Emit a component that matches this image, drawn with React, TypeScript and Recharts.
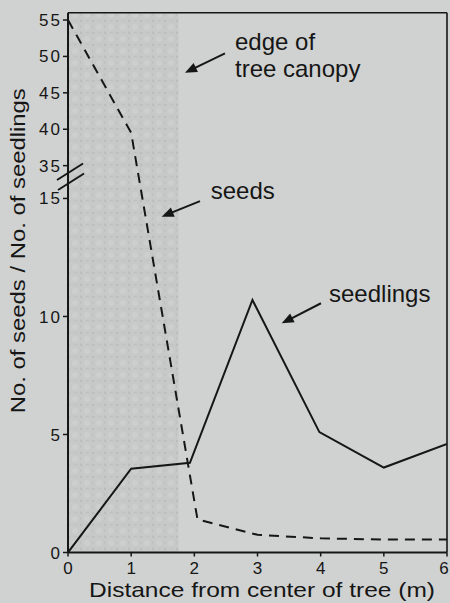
import React from 'react';
import { LineChart, Line, XAxis, YAxis, ReferenceArea, ReferenceLine, ReferenceDot } from 'recharts';

// ---- data ----
const xTicks = [0, 1, 2, 3, 4, 5, 6];
const yTickLabels = [0, 5, 10, 15, 35, 40, 45, 50, 55];

const seedsX = [0, 1, 2.05, 3, 4, 5, 6];
const seedsValues = [55, 39.5, 1.4, 0.75, 0.6, 0.55, 0.55];

const seedlingsX = [0, 1, 1.93, 2.92, 3.98, 5, 6];
const seedlingsValues = [0, 3.55, 3.8, 10.7, 5.1, 3.6, 4.6];

const canopyEdgeX = 1.75;

// annotation texts and positions (x in metres, y in axis units)
const annotationTexts = [['edge of', 'tree canopy'], ['seeds'], ['seedlings']];
const annotationTextPos = [
  { x: 2.644, y: 21.29 },
  { x: 2.259, y: 14.98 },
  { x: 4.132, y: 10.63 },
];
const arrowTails = [
  { x: 2.485, y: 21.15 },
  { x: 2.09, y: 14.89 },
  { x: 4.005, y: 10.56 },
];
const arrowHeads = [
  { x: 1.852, y: 20.33 },
  { x: 1.483, y: 14.23 },
  { x: 3.383, y: 9.71 },
];
const breakMark = { x: 0.032, y: 15.91 };

// ---- broken axis mapping ----
const UPPER_BOTTOM = 35;
const UPPER_START = 16.39;
const UPPER_SCALE = 0.3085;
const AXIS_TOP = 22.87;
const toAxis = (v: number) => (v < 25 ? v : UPPER_START + (v - UPPER_BOTTOM) * UPPER_SCALE);
const yTicks = yTickLabels.map(toAxis);

const seedsData = seedsX.map((x, i) => ({ x, y: toAxis(seedsValues[i]) }));
const seedlingsData = seedlingsX.map((x, i) => ({ x, y: toAxis(seedlingsValues[i]) }));

const FONT = '"Liberation Sans", Arial, Helvetica, sans-serif';
const INK = '#161616';
const BG = '#d0d2d1';

const ArrowShape = (props: any) => {
  const { x1, y1, x2, y2 } = props;
  const dx = x2 - x1;
  const dy = y2 - y1;
  const len = Math.hypot(dx, dy) || 1;
  const ux = dx / len;
  const uy = dy / len;
  const headLen = 12;
  const headW = 5;
  const bx = x2 - ux * headLen;
  const by = y2 - uy * headLen;
  const px = -uy;
  const py = ux;
  return (
    <g>
      <line x1={x1} y1={y1} x2={bx + ux * 2} y2={by + uy * 2} stroke={INK} strokeWidth={2} />
      <polygon
        points={`${x2},${y2} ${bx + px * headW},${by + py * headW} ${bx - px * headW},${by - py * headW}`}
        fill={INK}
      />
    </g>
  );
};

const makeTextShape = (lines: string[]) => (p: any) => (
  <text x={p.cx} y={p.cy} fontSize={24} fontFamily={FONT} fill={INK}>
    {lines.map((l, i) => (
      <tspan key={i} x={p.cx} dy={i === 0 ? 0 : 27}>
        {l}
      </tspan>
    ))}
  </text>
);

const BreakShape = (p: any) => {
  const { cx, cy } = p;
  return (
    <g stroke={INK} strokeWidth={2}>
      <line x1={cx - 13} y1={cy + 3} x2={cx + 13} y2={cy - 13.5} />
      <line x1={cx - 12} y1={cy + 13} x2={cx + 14} y2={cy - 3.5} />
    </g>
  );
};

const XTick = (p: any) => {
  const { x, y, payload } = p;
  const tx = Math.min(x, 444);
  return (
    <text x={tx} y={y} dy="0.71em" textAnchor="middle" fontSize={17} fontFamily={FONT} fill={INK}>
      {payload.value}
    </text>
  );
};

const YLabel = (props: any) => {
  const vb = props.viewBox || { x: 0, y: 0, width: 0, height: 0 };
  const x = vb.x + 25;
  const y = vb.y + 238;
  return (
    <text
      x={x}
      y={y}
      transform={`rotate(-90 ${x} ${y})`}
      textAnchor="middle"
      fontSize={21}
      fontFamily={FONT}
      fill={INK}
      textLength={325}
      lengthAdjust="spacingAndGlyphs"
    >
      No. of seeds / No. of seedlings
    </text>
  );
};

const XLabel = (props: any) => {
  const vb = props.viewBox || { x: 0, y: 0, width: 0, height: 0 };
  const x = vb.x + 194;
  const y = vb.y + 44.5;
  return (
    <text
      x={x}
      y={y}
      textAnchor="middle"
      fontSize={21}
      fontFamily={FONT}
      fill={INK}
      textLength={346}
      lengthAdjust="spacingAndGlyphs"
    >
      Distance from center of tree (m)
    </text>
  );
};

const yTickFormatter = (v: number) => {
  let best = 0;
  yTicks.forEach((t, i) => {
    if (Math.abs(t - v) < Math.abs(yTicks[best] - v)) best = i;
  });
  return String(yTickLabels[best]);
};

export default function App() {
  return (
    <div style={{ position: 'absolute', left: 0, top: 0, width: 450, height: 603, background: BG }}>
      <LineChart
        width={450}
        height={603}
        margin={{ top: 12.7, right: 3, bottom: 0, left: 0 }}
        style={{ background: BG }}
      >
        <defs>
          <pattern id="canopyPattern" width="12" height="12" patternUnits="userSpaceOnUse">
            <rect width="12" height="12" fill="#c7c9c8" />
            <circle cx="3" cy="3" r="3" fill="#cdcfce" />
            <circle cx="9" cy="9" r="1.2" fill="#bbbdbc" />
            <rect x="8" y="1" width="1" height="3" fill="#bec0bf" />
            <rect x="2" y="8" width="3" height="1" fill="#bec0bf" />
          </pattern>
        </defs>
        <XAxis
          dataKey="x"
          type="number"
          domain={[0, 6]}
          ticks={xTicks}
          interval={0}
          allowDataOverflow
          height={50.5}
          axisLine={{ stroke: INK, strokeWidth: 2 }}
          tickLine={{ stroke: INK, strokeWidth: 1.5 }}
          tickSize={4}
          tickMargin={5}
          tick={XTick}
          label={{ content: XLabel }}
        />
        <YAxis
          type="number"
          domain={[0, AXIS_TOP]}
          ticks={yTicks}
          interval={0}
          allowDataOverflow
          width={68}
          axisLine={{ stroke: INK, strokeWidth: 2 }}
          tickLine={{ stroke: INK, strokeWidth: 1.5 }}
          tickSize={5}
          tickMargin={1}
          tick={{ fontSize: 17, fill: INK, fontFamily: FONT, letterSpacing: 2 }}
          tickFormatter={yTickFormatter}
          label={{ content: YLabel }}
        />
        <ReferenceArea
          x1={0}
          x2={canopyEdgeX}
          y1={0}
          y2={AXIS_TOP}
          fill="url(#canopyPattern)"
          fillOpacity={1}
          stroke="none"
          ifOverflow="visible"
        />
        <ReferenceLine y={AXIS_TOP} stroke={INK} strokeWidth={1.6} ifOverflow="visible" />
        <ReferenceLine x={6} stroke={INK} strokeWidth={1.6} ifOverflow="visible" />
        <Line
          data={seedsData}
          dataKey="y"
          type="linear"
          stroke={INK}
          strokeWidth={2}
          strokeDasharray="10 7"
          dot={false}
          activeDot={false}
          isAnimationActive={false}
        />
        <Line
          data={seedlingsData}
          dataKey="y"
          type="linear"
          stroke={INK}
          strokeWidth={2}
          dot={false}
          activeDot={false}
          isAnimationActive={false}
        />
        {annotationTexts.map((lines, i) => (
          <ReferenceLine
            key={'arrow' + i}
            segment={[arrowTails[i], arrowHeads[i]]}
            ifOverflow="visible"
            shape={ArrowShape}
          />
        ))}
        {annotationTexts.map((lines, i) => (
          <ReferenceDot
            key={'text' + i}
            x={annotationTextPos[i].x}
            y={annotationTextPos[i].y}
            ifOverflow="visible"
            shape={makeTextShape(lines)}
          />
        ))}
        <ReferenceDot x={breakMark.x} y={breakMark.y} ifOverflow="visible" shape={BreakShape} />
      </LineChart>
    </div>
  );
}
